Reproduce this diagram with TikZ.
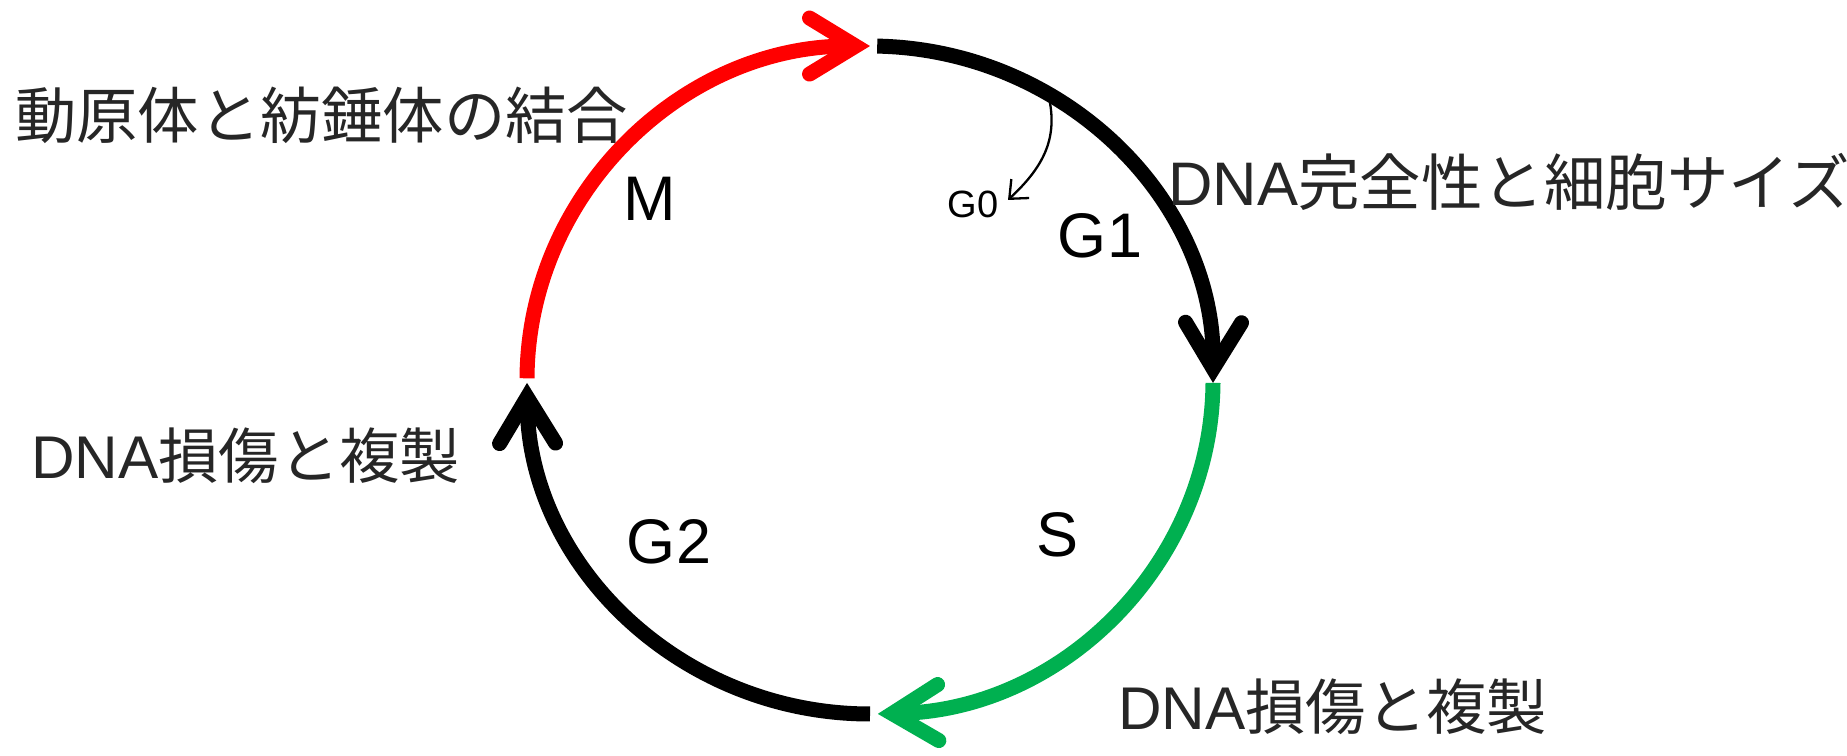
\documentclass[tikz,border=0pt]{standalone}
\usepackage{fontspec}
\newfontfamily\jp{Noto Sans CJK JP}
\newfontfamily\lat{Liberation Sans}
\usetikzlibrary{arrows.meta}
\definecolor{mgreen}{HTML}{00B050}
\definecolor{txt}{HTML}{262626}
\begin{document}
\begin{tikzpicture}[x=1pt,y=1pt,
  cyc/.style={line width=15pt, line cap=butt},
  head/.style={-{Straight Barb[length=46pt,width=56pt,line cap=round,line join=miter]}},
  phase/.style={inner sep=0pt, font=\lat\fontsize{63}{70}\selectfont, text=black},
  cond/.style={inner sep=0pt, anchor=west, text=txt}
]
\useasboundingbox (0,0) rectangle (1847,755);
% points on the cycle
\coordinate (mStart) at (527.0,376.7);
\coordinate (g1Start) at (877.2,708.9);
\coordinate (sStart) at (1213.0,372.1);
\coordinate (g2Start) at (870,41);
% quarter arcs of the cycle
\draw[cyc, red, head] (mStart) arc[start angle=179.7, end angle=90, x radius=343, y radius=334];
\draw[cyc, black, head] (g1Start) arc[start angle=88.8, end angle=-0.5, x radius=343, y radius=334];
\draw[cyc, mgreen, head] (sStart) arc[start angle=-0.5, end angle=-88.7, x radius=343, y radius=334];
\draw[cyc, black, head] (g2Start) arc[start angle=-90, end angle=-179.5, x radius=343, y radius=334];
% G0 exit
\coordinate (g0s) at (1050,652);
\node[inner sep=0pt, font=\lat\fontsize{38}{40}\selectfont] (g0) at (973,551) {G0};
\draw[line width=2.3pt, -{Straight Barb[length=15pt,width=26pt]}] (g0s) .. controls (1057,612) and (1040,585) .. (1008,555);
% phase labels
\node[phase] (m) at (650,556) {M};
\node[phase] (g1) at (1100,519) {G1};
\node[phase] (g2) at (669,213) {G2};
\node[phase] (s) at (1057,220) {S};
% checkpoint labels
\node[cond, font=\fontsize{61.3}{70}\selectfont] (cM) at (15,640) {\jp 動原体と紡錘体の結合};
\node[cond, font=\fontsize{61.5}{70}\selectfont] (cG1) at (1168,573) {\lat DNA\jp 完全性と細胞サイズ};
\node[cond, font=\fontsize{60.3}{70}\selectfont] (cG2) at (31,299) {\lat DNA\jp 損傷と複製};
\node[cond, font=\fontsize{60.3}{70}\selectfont] (cS) at (1118,48) {\lat DNA\jp 損傷と複製};
\end{tikzpicture}
\end{document}
